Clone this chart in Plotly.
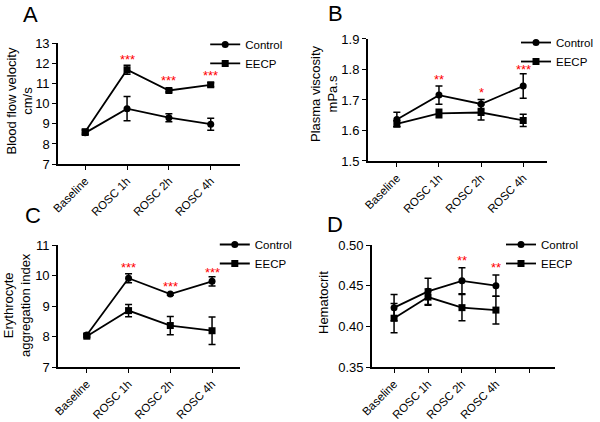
import plotly.graph_objects as go

categories = ["Baseline", "ROSC 1h", "ROSC 2h", "ROSC 4h"]
categories_d = ["Baseline", "ROSC 1h", "ROSC 2h", "ROSC 4h", ""]

# Panel A: Blood flow velocity (cm/s)
a_control = [8.55, 9.75, 9.30, 8.98]
a_control_err = [0.12, 0.60, 0.20, 0.30]
a_eecp = [8.60, 11.68, 10.65, 10.93]
a_eecp_err = [0.12, 0.22, 0.08, 0.10]
a_star_text = ["***", "***", "***"]
a_star_y = [12.35, 11.30, 11.55]

# Panel B: Plasma viscosity (mPa.s)
b_control = [1.636, 1.716, 1.687, 1.746]
b_control_err = [0.024, 0.030, 0.015, 0.040]
b_eecp = [1.622, 1.656, 1.659, 1.633]
b_eecp_err = [0.010, 0.014, 0.025, 0.020]
b_star_text = ["**", "*", "***"]
b_star_y = [1.776, 1.733, 1.810]

# Panel C: Erythrocyte aggregation index
c_control = [8.05, 9.91, 9.39, 9.81]
c_control_err = [0.06, 0.15, 0.04, 0.15]
c_eecp = [8.01, 8.85, 8.36, 8.19]
c_eecp_err = [0.05, 0.20, 0.30, 0.45]
c_star_text = ["***", "***", "***"]
c_star_y = [10.36, 9.74, 10.21]

# Panel D: Hematocrit
d_control = [0.423, 0.443, 0.456, 0.450]
d_control_err = [0.016, 0.016, 0.016, 0.013]
d_eecp = [0.410, 0.436, 0.423, 0.420]
d_eecp_err = [0.018, 0.010, 0.016, 0.017]
d_star_text = ["**", "**"]
d_star_y = [0.485, 0.476]

y_titles = ["Blood flow velocity<br>cm/s", "Plasma viscosity<br>mPa.s",
            "Erythrocyte<br>aggregation index", "Hematocrit"]
panel_letters = ["A", "B", "C", "D"]

FONT = "Liberation Sans, Arial, sans-serif"
fig = go.Figure()

panels = [
    dict(ax="", leg="legend", ctrl=a_control, ce=a_control_err, ee=a_eecp, ee_err=a_eecp_err,
         st=a_star_text, sy=a_star_y, sx=[1, 2, 3]),
    dict(ax="2", leg="legend2", ctrl=b_control, ce=b_control_err, ee=b_eecp, ee_err=b_eecp_err,
         st=b_star_text, sy=b_star_y, sx=[1, 2, 3]),
    dict(ax="3", leg="legend3", ctrl=c_control, ce=c_control_err, ee=c_eecp, ee_err=c_eecp_err,
         st=c_star_text, sy=c_star_y, sx=[1, 2, 3]),
    dict(ax="4", leg="legend4", ctrl=d_control, ce=d_control_err, ee=d_eecp, ee_err=d_eecp_err,
         st=d_star_text, sy=d_star_y, sx=[2, 3]),
]

for p in panels:
    xs = list(range(len(categories)))
    for name, vals, errs, sym in [("Control", p["ctrl"], p["ce"], "circle"),
                                  ("EECP", p["ee"], p["ee_err"], "square")]:
        fig.add_trace(go.Scatter(
            x=xs, y=vals, name=name, mode="lines+markers",
            line=dict(color="black", width=1.8),
            marker=dict(symbol=sym, size=7, color="black"),
            error_y=dict(type="data", array=errs, color="black", thickness=1.5, width=3.5),
            xaxis="x" + p["ax"], yaxis="y" + p["ax"], legend=p["leg"],
        ))
    for sx, sy, st in zip(p["sx"], p["sy"], p["st"]):
        fig.add_annotation(x=sx, y=sy, text=st, showarrow=False, yshift=-3,
                           xref="x" + p["ax"], yref="y" + p["ax"],
                           font=dict(color="#ff0000", size=13, family=FONT))

axis_common = dict(showline=True, linecolor="black", linewidth=1.6, ticks="outside",
                   ticklen=4, tickwidth=1.2, tickcolor="black", showgrid=False,
                   zeroline=False, automargin=False,
                   tickfont=dict(size=13, family=FONT, color="black"))
x_common = dict(axis_common, tickangle=-45, tickfont=dict(size=11.5, family=FONT, color="black"))

fig.update_layout(
    width=600, height=422, margin=dict(l=0, r=0, t=0, b=0, autoexpand=False),
    plot_bgcolor="white", paper_bgcolor="white",
    font=dict(family=FONT, color="black"),
    xaxis=dict(x_common, domain=[0.0967, 0.4], range=[-0.65, 3.7],
               tickvals=list(range(4)), ticktext=categories, anchor="y"),
    yaxis=dict(axis_common, domain=[0.611, 0.898], range=[7, 13], dtick=1, anchor="x"),
    xaxis2=dict(x_common, domain=[0.613, 0.912], range=[-0.69, 3.57],
                tickvals=list(range(4)), ticktext=categories, anchor="y2"),
    yaxis2=dict(axis_common, domain=[0.6185, 0.9076], range=[1.5, 1.9], dtick=0.1,
                tickformat=".1f", anchor="x2"),
    xaxis3=dict(x_common, domain=[0.0967, 0.4], range=[-0.69, 3.67],
                tickvals=list(range(4)), ticktext=categories, anchor="y3"),
    yaxis3=dict(axis_common, domain=[0.1303, 0.4194], range=[7, 11], dtick=1, anchor="x3"),
    xaxis4=dict(x_common, domain=[0.62, 0.925], range=[-0.65, 4.74],
                tickvals=list(range(5)), ticktext=categories_d, anchor="y4"),
    yaxis4=dict(axis_common, domain=[0.1303, 0.4194], range=[0.35, 0.50], dtick=0.05,
                tickformat=".2f", anchor="x4"),
)

leg_common = dict(xanchor="left", yanchor="top", bgcolor="rgba(0,0,0,0)",
                  font=dict(size=11.5, family=FONT, color="black"), itemwidth=30)
fig.update_layout(
    legend=dict(leg_common, x=0.342, y=0.929),
    legend2=dict(leg_common, x=0.86, y=0.9336),
    legend3=dict(leg_common, x=0.358, y=0.455),
    legend4=dict(leg_common, x=0.835, y=0.455),
)

# y-axis titles (pixel centres converted to paper coordinates)
for text, tx, ty in zip(y_titles, [19.5, 324, 17, 323], [101, 94, 305, 303]):
    fig.add_annotation(x=tx / 600, y=1 - ty / 422, xref="paper", yref="paper",
                       text=text, showarrow=False, textangle=-90,
                       xanchor="center", yanchor="middle",
                       font=dict(size=13, family=FONT, color="black"))

for letter, lx, ly in zip(panel_letters, [30, 335, 33, 335], [15, 13, 215, 224]):
    fig.add_annotation(x=lx / 600, y=1 - ly / 422, xref="paper", yref="paper",
                       text=letter, showarrow=False, xanchor="center", yanchor="middle",
                       font=dict(size=22, family=FONT, color="black"))

fig.write_html("out.html", config={"displayModeBar": False},
               post_script="document.body.style.margin='0';document.body.style.overflow='hidden';")
